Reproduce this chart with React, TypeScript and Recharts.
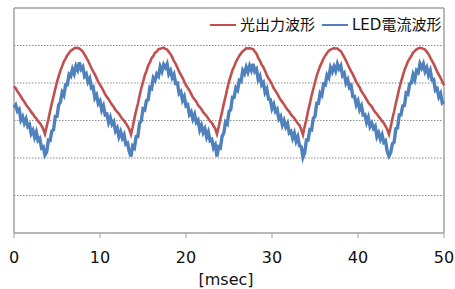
import { Label, Line, LineChart, ReferenceLine, XAxis, YAxis } from "recharts";

const FONT = "'DejaVu Sans', 'Noto Sans CJK JP', sans-serif";
const RED_COLOR = "#c0504d";
const BLUE_COLOR = "#4f81bd";
const FRAME = "#a0a0a0";

const SAMPLE_MS = 0.2;
const X_TICKS = [0, 10, 20, 30, 40, 50];
const GRID_LEVELS = [1, 2, 3, 4, 5];
const SERIES_NAMES = ["光出力波形", "LED電流波形"];

// light output, one sample every 0.2 ms from 0 to 50 ms
const lightOut = [
  3.91, 3.86, 3.78, 3.71, 3.64, 3.56, 3.5, 3.42, 3.36, 3.3, 3.23, 3.17, 3.1, 3.05, 2.98, 2.93, 2.86, 2.77,
  2.64, 2.84, 3.03, 3.25, 3.46, 3.65, 3.84, 4.03, 4.18, 4.33,
  4.45, 4.57, 4.65, 4.74, 4.8, 4.86, 4.89, 4.92, 4.94, 4.93,
  4.92, 4.88, 4.84, 4.76, 4.68, 4.6, 4.5, 4.4, 4.31, 4.23,
  4.13, 4.03, 3.95, 3.88, 3.79, 3.7, 3.63, 3.57, 3.49, 3.42,
  3.36, 3.28, 3.23, 3.18, 3.11, 3.04, 2.99, 2.93, 2.85, 2.77,
  2.63, 2.82, 3.05, 3.26, 3.44, 3.66, 3.86, 4.02, 4.2, 4.32,
  4.46, 4.55, 4.66, 4.72, 4.81, 4.84, 4.9, 4.91, 4.93, 4.94,
  4.91, 4.89, 4.83, 4.77, 4.69, 4.58, 4.51, 4.41, 4.3, 4.22,
  4.14, 4.04, 3.94, 3.87, 3.8, 3.71, 3.62, 3.56, 3.5, 3.41,
  3.36, 3.3, 3.22, 3.17, 3.12, 3.05, 2.98, 2.94, 2.86, 2.78,
  2.64, 2.83, 3.04, 3.24, 3.45, 3.64, 3.85, 4.04, 4.19, 4.34,
  4.44, 4.56, 4.64, 4.73, 4.79, 4.85, 4.88, 4.93, 4.92, 4.93,
  4.91, 4.9, 4.84, 4.78, 4.67, 4.59, 4.49, 4.42, 4.32, 4.21,
  4.12, 4.05, 3.96, 3.86, 3.79, 3.72, 3.63, 3.55, 3.49, 3.43,
  3.35, 3.29, 3.24, 3.16, 3.11, 3.06, 2.99, 2.92, 2.87, 2.76,
  2.62, 2.84, 3.03, 3.26, 3.45, 3.66, 3.84, 4.02, 4.19, 4.33,
  4.45, 4.55, 4.66, 4.73, 4.8, 4.86, 4.89, 4.91, 4.93, 4.92,
  4.92, 4.88, 4.85, 4.77, 4.69, 4.6, 4.5, 4.4, 4.31, 4.23,
  4.13, 4.03, 3.95, 3.88, 3.78, 3.71, 3.64, 3.56, 3.48, 3.42,
  3.37, 3.29, 3.22, 3.17, 3.1, 3.05, 2.98, 2.93, 2.85, 2.76,
  2.63, 2.83, 3.05, 3.24, 3.46, 3.65, 3.86, 4.03, 4.18, 4.34,
  4.45, 4.57, 4.65, 4.72, 4.81, 4.85, 4.9, 4.92, 4.94, 4.93,
  4.91, 4.89, 4.83, 4.77, 4.68, 4.59, 4.51, 4.41, 4.3, 4.22,
  4.14, 4.04, 3.94,
];

// LED current, same sampling, noisy
const ledCurrent = [
  3.34, 3.41, 3.25, 3.3, 3.01, 3.1, 2.93, 3.04, 2.84, 2.89, 2.65, 2.74, 2.55, 2.69, 2.47, 2.52, 2.27, 2.3,
  2.08, 2.16, 2.48, 2.47, 2.72, 2.75, 3.11, 3.11, 3.42, 3.49,
  3.75, 3.67, 3.95, 3.95, 4.23, 4.18, 4.37, 4.25, 4.45, 4.35,
  4.55, 4.37, 4.43, 4.18, 4.24, 4.03, 4.12, 3.87, 3.9, 3.6,
  3.68, 3.45, 3.52, 3.28, 3.39, 3.15, 3.17, 2.95, 3.08, 2.9,
  2.97, 2.72, 2.8, 2.57, 2.7, 2.53, 2.62, 2.37, 2.4, 2.17,
  2.04, 2.32, 2.27, 2.57, 2.57, 2.93, 2.99, 3.31, 3.28, 3.53,
  3.55, 3.88, 3.85, 4.14, 4.07, 4.24, 4.18, 4.43, 4.31, 4.49,
  4.41, 4.51, 4.24, 4.33, 4.14, 4.23, 3.99, 4.0, 3.72, 3.77,
  3.54, 3.64, 3.39, 3.42, 3.16, 3.23, 3.04, 3.16, 2.95, 3.01,
  2.75, 2.87, 2.68, 2.78, 2.56, 2.69, 2.46, 2.49, 2.27, 2.35,
  2.04, 2.3, 2.27, 2.58, 2.67, 2.96, 2.91, 3.24, 3.29, 3.62,
  3.62, 3.87, 3.81, 4.07, 4.04, 4.33, 4.25, 4.42, 4.29, 4.46,
  4.34, 4.51, 4.31, 4.37, 4.09, 4.18, 3.95, 4.01, 3.75, 3.84,
  3.57, 3.56, 3.32, 3.43, 3.24, 3.3, 3.04, 3.11, 2.88, 3.0,
  2.83, 2.92, 2.67, 2.71, 2.53, 2.66, 2.45, 2.57, 2.33, 2.3,
  2.02, 2.14, 2.48, 2.48, 2.76, 2.75, 3.06, 3.11, 3.46, 3.46,
  3.73, 3.67, 3.97, 3.95, 4.21, 4.14, 4.41, 4.3, 4.44, 4.32,
  4.51, 4.38, 4.46, 4.2, 4.26, 4.0, 4.09, 3.88, 3.93, 3.64,
  3.64, 3.42, 3.52, 3.29, 3.39, 3.15, 3.16, 2.95, 3.08, 2.84,
  2.93, 2.79, 2.85, 2.57, 2.67, 2.5, 2.62, 2.42, 2.46, 2.17,
  2.05, 2.14, 2.38, 2.42, 2.78, 2.8, 3.15, 3.15, 3.39, 3.4,
  3.73, 3.7, 3.97, 4.0, 4.22, 4.09, 4.33, 4.28, 4.51, 4.4,
  4.51, 4.31, 4.41, 4.21, 4.33, 4.08, 4.09, 3.81, 3.85, 3.63,
  3.72, 3.47, 3.51,
];

const rows = lightOut.map((v, i) => ({
  t: Number((i * SAMPLE_MS).toFixed(1)),
  light: v,
  led: ledCurrent[i],
}));

function LegendOverlay() {
  const colors = [RED_COLOR, BLUE_COLOR];
  return (
    <div
      style={{
        position: "absolute",
        left: 210,
        top: 16,
        display: "flex",
        alignItems: "center",
        fontFamily: FONT,
        fontSize: 15,
        lineHeight: "18px",
        color: "#111",
        whiteSpace: "nowrap",
      }}
    >
      {SERIES_NAMES.map((name, i) => (
        <div key={name} style={{ display: "flex", alignItems: "center", marginRight: i === 0 ? 7 : 0 }}>
          <span style={{ display: "inline-block", width: 26, height: 2.5, background: colors[i], marginRight: 4 }} />
          <span>{name}</span>
        </div>
      ))}
    </div>
  );
}

export default function App() {
  return (
    <div style={{ position: "absolute", left: 0, top: 0, width: 455, height: 289, background: "#fff" }}>
      <LineChart width={455} height={289} data={rows} margin={{ top: 8, right: 11, bottom: 0, left: 14 }}>
        <XAxis
          dataKey="t"
          type="number"
          domain={[0, 50]}
          ticks={X_TICKS}
          interval={0}
          height={56}
          tickSize={5}
          tickMargin={14}
          axisLine={{ stroke: FRAME, strokeWidth: 1.5 }}
          tickLine={{ stroke: FRAME }}
          tick={{ fill: "#111", fontSize: 16, fontFamily: FONT }}
        >
          <Label value="[msec]" position="insideBottom" offset={4} fill="#111" fontSize={16} fontFamily={FONT} dx={-3} />
        </XAxis>
        <YAxis hide type="number" domain={[0, 6]} />
        {GRID_LEVELS.map((y) => (
          <ReferenceLine key={y} y={y} stroke="#8c8c8c" strokeDasharray="1.5 1.5" />
        ))}
        <ReferenceLine y={6} stroke={FRAME} strokeWidth={1.5} />
        <ReferenceLine x={0} stroke={FRAME} strokeWidth={1.5} />
        <ReferenceLine x={50} stroke={FRAME} strokeWidth={1.5} />
        <Line
          type="linear"
          dataKey="light"
          name={SERIES_NAMES[0]}
          stroke={RED_COLOR}
          strokeWidth={2.6}
          dot={false}
          isAnimationActive={false}
        />
        <Line
          type="linear"
          dataKey="led"
          name={SERIES_NAMES[1]}
          stroke={BLUE_COLOR}
          strokeWidth={3.4}
          strokeLinejoin="miter"
          dot={false}
          isAnimationActive={false}
        />
      </LineChart>
      <LegendOverlay />
    </div>
  );
}
